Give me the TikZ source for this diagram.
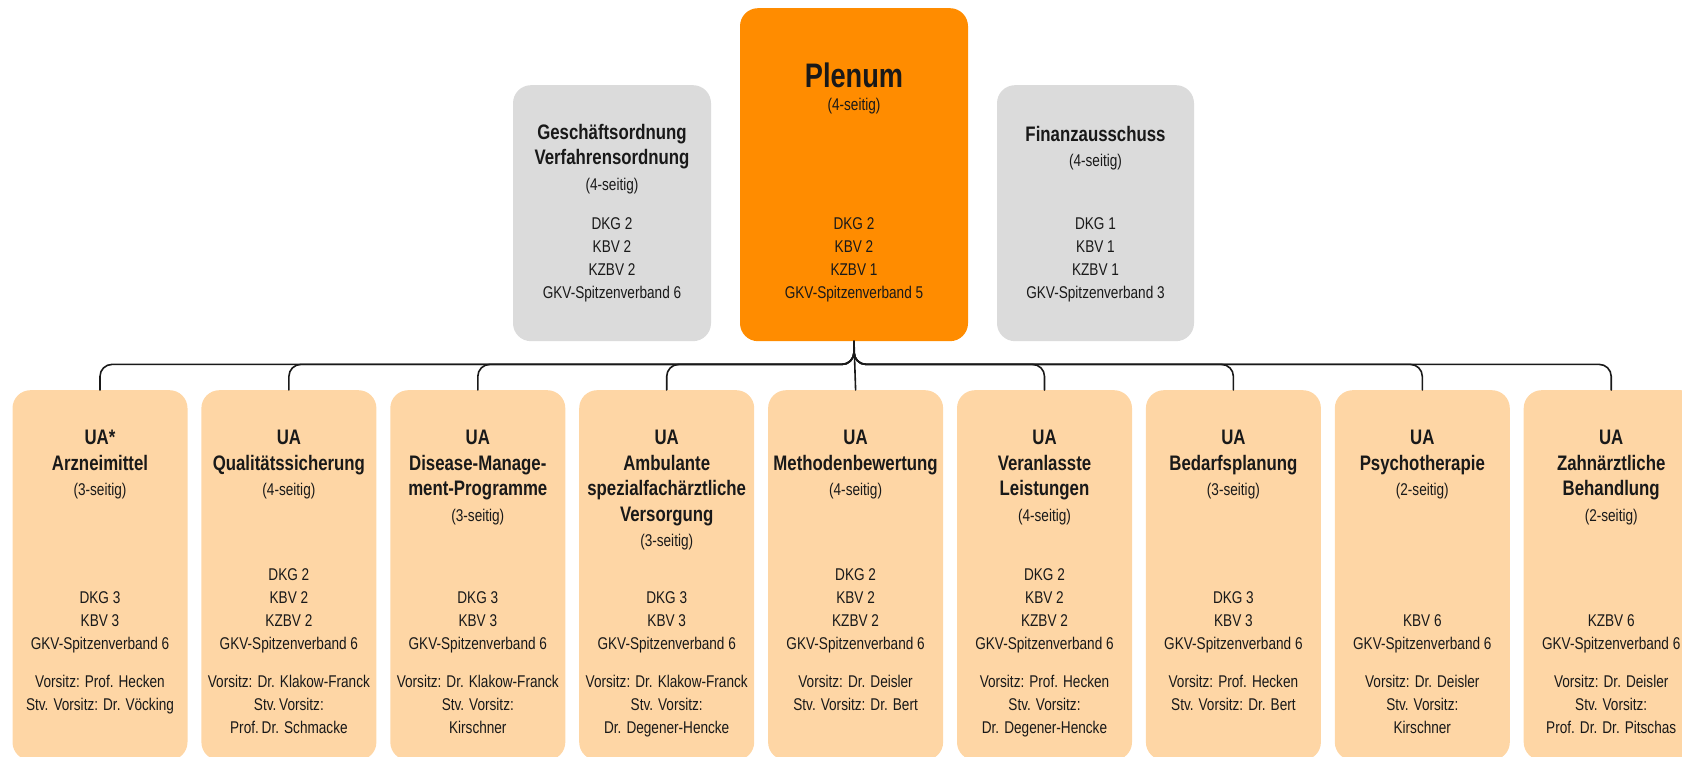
\documentclass[tikz,border=0pt]{standalone}
\usepackage{fontspec}
\setmainfont{Liberation Sans}[FakeStretch=0.8]
\usetikzlibrary{positioning}
\definecolor{plenumorange}{RGB}{255,140,0}
\definecolor{uapeach}{RGB}{254,214,165}
\definecolor{boardgrey}{RGB}{219,219,219}
\definecolor{inkgrey}{RGB}{25,25,25}
\newcommand\seitig[1]{{\mdseries\fontsize{17}{23}\selectfont(#1-seitig)}}

\begin{document}
\begin{tikzpicture}[x=1pt, y=1pt, line join=round, line cap=round,
	box/.style={rectangle, rounded corners=18pt, inner sep=0pt, anchor=north},
	topbox/.style={box, fill=boardgrey, minimum width=197pt, minimum height=256pt},
	uabox/.style={box, fill=uapeach, minimum width=175pt, minimum height=370pt},
	head/.style={inner sep=0pt, align=center, text=inkgrey, font=\bfseries\fontsize{21}{25.5}\selectfont},
	list/.style={inner sep=0pt, align=center, text=inkgrey, font=\fontsize{17}{23}\selectfont},
	link/.style={draw=inkgrey, line width=1.6pt, rounded corners=12pt}]
	\def\gap{13.5pt} \def\headtop{40pt} \def\listup{107pt} \def\chairtop{285pt}
	\useasboundingbox (0,0) rectangle (1682,757);
	\clip (0,0) rectangle (1682,757);
	% upper row
	\node[box, fill=plenumorange, minimum width=228pt, minimum height=333pt] (plenum) at (854,749) {};
	\node[topbox, minimum width=198pt] (gsvo) at (612,672) {};
	\node[topbox] (finanz) at (1095.5,672) {};
	\node[head, font=\bfseries\fontsize{34}{40}\selectfont, below=55pt of plenum.north] (plenumhead) {Plenum};
	\node[list, below=89.5pt of plenum.north] (plenumside) {(4-seitig)};
	\node[list, below=209pt of plenum.north] (plenumlist) {DKG 2\\KBV 2\\KZBV 1\\GKV-Spitzenverband 5};
	\node[head, below=39pt of gsvo.north] (gsvohead) {Geschäftsordnung\\Verfahrensordnung\\\seitig{4}};
	\node[list, below=132pt of gsvo.north] (gsvolist) {DKG 2\\KBV 2\\KZBV 2\\GKV-Spitzenverband 6};
	\node[head, below=41pt of finanz.north] (finanzhead) {Finanzausschuss\\\seitig{4}};
	\node[list, below=132pt of finanz.north] (finanzlist) {DKG 1\\KBV 1\\KZBV 1\\GKV-Spitzenverband 3};
	% Unterausschuesse
	\node[uabox] (ua1) at (100,367) {};
	\node[uabox, right=\gap of ua1] (ua2) {};
	\node[uabox, right=\gap of ua2] (ua3) {};
	\node[uabox, right=\gap of ua3] (ua4) {};
	\node[uabox, right=\gap of ua4] (ua5) {};
	\node[uabox, right=\gap of ua5] (ua6) {};
	\node[uabox, right=\gap of ua6] (ua7) {};
	\node[uabox, right=\gap of ua7] (ua8) {};
	\node[uabox, right=\gap of ua8] (ua9) {};
	\node[head, below=\headtop of ua1.north] (head1) {UA*\\Arzneimittel\\\seitig{3}};
	\node[list, above=\listup of ua1.south] (list1) {DKG 3\\KBV 3\\GKV-Spitzenverband 6};
	\node[list, below=\chairtop of ua1.north] (chair1) {Vorsitz: Prof. Hecken\\Stv. Vorsitz: Dr. Vöcking};
	\node[head, below=\headtop of ua2.north] (head2) {UA\\Qualitätssicherung\\\seitig{4}};
	\node[list, above=\listup of ua2.south] (list2) {DKG 2\\KBV 2\\KZBV 2\\GKV-Spitzenverband 6};
	\node[list, below=\chairtop of ua2.north] (chair2) {Vorsitz: Dr. Klakow-Franck\\Stv.\,Vorsitz:\\Prof.\,Dr. Schmacke};
	\node[head, below=\headtop of ua3.north] (head3) {UA\\Disease-Manage-\\ment-Programme\\\seitig{3}};
	\node[list, above=\listup of ua3.south] (list3) {DKG 3\\KBV 3\\GKV-Spitzenverband 6};
	\node[list, below=\chairtop of ua3.north] (chair3) {Vorsitz: Dr. Klakow-Franck\\Stv. Vorsitz:\\Kirschner};
	\node[head, below=\headtop of ua4.north] (head4) {UA\\Ambulante\\spezialfachärztliche\\Versorgung\\\seitig{3}};
	\node[list, above=\listup of ua4.south] (list4) {DKG 3\\KBV 3\\GKV-Spitzenverband 6};
	\node[list, below=\chairtop of ua4.north] (chair4) {Vorsitz: Dr. Klakow-Franck\\Stv. Vorsitz:\\Dr. Degener-Hencke};
	\node[head, below=\headtop of ua5.north] (head5) {UA\\Methodenbewertung\\\seitig{4}};
	\node[list, above=\listup of ua5.south] (list5) {DKG 2\\KBV 2\\KZBV 2\\GKV-Spitzenverband 6};
	\node[list, below=\chairtop of ua5.north] (chair5) {Vorsitz: Dr. Deisler\\Stv. Vorsitz: Dr. Bert};
	\node[head, below=\headtop of ua6.north] (head6) {UA\\Veranlasste\\Leistungen\\\seitig{4}};
	\node[list, above=\listup of ua6.south] (list6) {DKG 2\\KBV 2\\KZBV 2\\GKV-Spitzenverband 6};
	\node[list, below=\chairtop of ua6.north] (chair6) {Vorsitz: Prof. Hecken\\Stv. Vorsitz:\\Dr. Degener-Hencke};
	\node[head, below=\headtop of ua7.north] (head7) {UA\\Bedarfsplanung\\\seitig{3}};
	\node[list, above=\listup of ua7.south] (list7) {DKG 3\\KBV 3\\GKV-Spitzenverband 6};
	\node[list, below=\chairtop of ua7.north] (chair7) {Vorsitz: Prof. Hecken\\Stv. Vorsitz: Dr. Bert};
	\node[head, below=\headtop of ua8.north] (head8) {UA\\Psychotherapie\\\seitig{2}};
	\node[list, above=\listup of ua8.south] (list8) {KBV 6\\GKV-Spitzenverband 6};
	\node[list, below=\chairtop of ua8.north] (chair8) {Vorsitz: Dr. Deisler\\Stv. Vorsitz:\\Kirschner};
	\node[head, below=\headtop of ua9.north] (head9) {UA\\Zahnärztliche\\Behandlung\\\seitig{2}};
	\node[list, above=\listup of ua9.south] (list9) {KZBV 6\\GKV-Spitzenverband 6};
	\node[list, below=\chairtop of ua9.north] (chair9) {Vorsitz: Dr. Deisler\\Stv. Vorsitz:\\Prof. Dr. Dr. Pitschas};
	% Verbindungen
	\coordinate[below=23pt of plenum.south] (bus);
	\draw[link] (plenum.south) -- (bus) -| (ua1.north);
	\draw[link] (plenum.south) -- (bus) -| (ua2.north);
	\draw[link] (plenum.south) -- (bus) -| (ua3.north);
	\draw[link] (plenum.south) -- (bus) -| (ua4.north);
	\draw[link] (plenum.south) -- (ua5.north);
	\draw[link] (plenum.south) -- (bus) -| (ua6.north);
	\draw[link] (plenum.south) -- (bus) -| (ua7.north);
	\draw[link] (plenum.south) -- (bus) -| (ua8.north);
	\draw[link] (plenum.south) -- (bus) -| (ua9.north);
\end{tikzpicture}
\end{document}
